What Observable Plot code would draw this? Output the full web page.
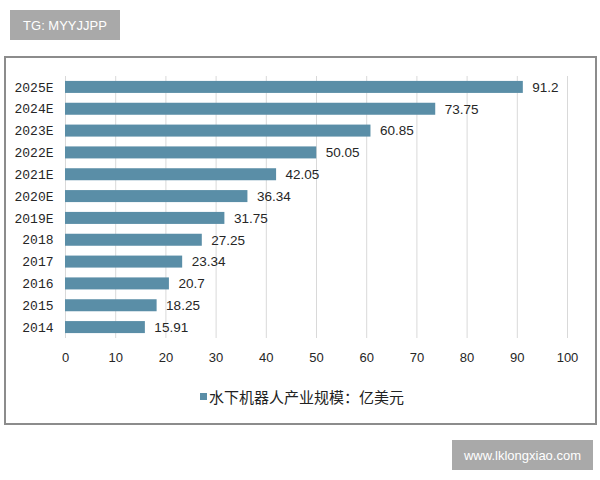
<!DOCTYPE html>
<html>
<head>
<meta charset="utf-8">
<script src="https://cdn.jsdelivr.net/npm/d3@7"></script>
<script src="https://cdn.jsdelivr.net/npm/@observablehq/plot@0.6"></script>
<style>
  html, body { margin: 0; padding: 0; background: #fff; }
  #wrap { position: relative; width: 600px; height: 480px; overflow: hidden; }
  .frame { position: absolute; left: 4px; top: 56px; width: 589px; height: 365px; border: 2px solid #8c8c8c; box-sizing: content-box; }
  .wm { position: absolute; background: #a9a9a9; color: #fff; font-family: "Liberation Sans", sans-serif; display: flex; align-items: center; justify-content: center; }
  #legend { position: absolute; top: 386px; left: 0; width: 604px; text-align: center; font-family: "Noto Sans CJK SC", sans-serif; font-size: 15px; color: #222; }
  #legend .sw { display: inline-block; width: 7px; height: 7px; background: #5a8ea7; margin-right: 2px; vertical-align: middle; position: relative; top: -2px; }
  #chart { position: absolute; left: 0; top: 0; }
</style>
</head>
<body>
<div id="wrap">
  <div class="frame"></div>
  <div id="chart"></div>
  <div id="legend"><span class="sw"></span><span id="legtext"></span></div>
  <div class="wm" style="left:10px;top:10px;width:110px;height:30px;font-size:13px;">TG: MYYJJPP</div>
  <div class="wm" style="left:452px;top:440px;width:141px;height:30px;font-size:13px;">www.lklongxiao.com</div>
</div>
<script>
const years = ["2025E","2024E","2023E","2022E","2021E","2020E","2019E","2018","2017","2016","2015","2014"];
const values = [91.2, 73.75, 60.85, 50.05, 42.05, 36.34, 31.75, 27.25, 23.34, 20.7, 18.25, 15.91];
const labels = ["91.2","73.75","60.85","50.05","42.05","36.34","31.75","27.25","23.34","20.7","18.25","15.91"];
const xTicks = [0,10,20,30,40,50,60,70,80,90,100];
const seriesName = "水下机器人产业规模：亿美元";

const data = years.map((y, i) => ({year: y, value: values[i], label: labels[i]}));
document.getElementById("legtext").textContent = seriesName;

const chart = Plot.plot({
  width: 600,
  height: 480,
  marginLeft: 65,
  marginRight: 33,
  marginTop: 76,
  marginBottom: 142,
  style: {background: "transparent", fontFamily: "Liberation Sans, sans-serif"},
  x: {domain: [0, 100], ticks: xTicks, label: null, tickSize: 0, tickPadding: 14},
  y: {domain: years, label: null, paddingInner: 0.45, paddingOuter: 0.225, round: false, tickSize: 0, tickPadding: 12},
  marks: [
    Plot.gridX(xTicks, {stroke: "#d9d9d9", strokeOpacity: 1}),
    Plot.barX(data, {x: "value", y: "year", fill: "#5a8ea7"}),
    Plot.text(data, {x: "value", y: "year", text: "label", textAnchor: "start", dx: 9, fontSize: 13.5, fill: "#262626"}),
    Plot.axisX({ticks: xTicks, tickSize: 0, tickPadding: 14, fontSize: 13, color: "#262626", label: null}),
    Plot.axisY({tickSize: 0, tickPadding: 12, fontSize: 13, fontFamily: "Liberation Mono, monospace", color: "#262626", label: null})
  ]
});
document.getElementById("chart").appendChild(chart);
</script>
</body>
</html>
